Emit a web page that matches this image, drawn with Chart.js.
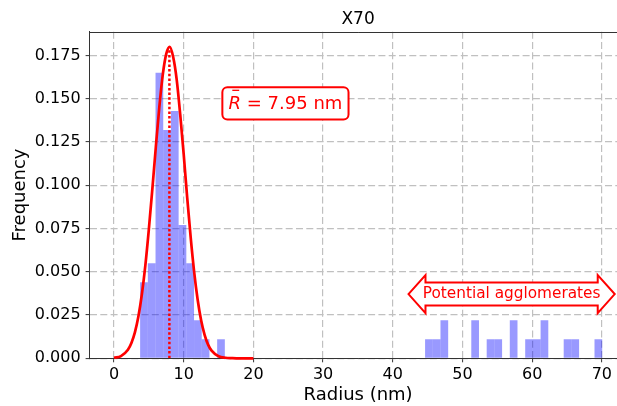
<!DOCTYPE html>
<html>
<head>
<meta charset="utf-8">
<script src="https://cdn.jsdelivr.net/npm/chart.js@4/dist/chart.umd.min.js"></script>
<style>
  html, body { margin: 0; padding: 0; overflow: hidden; background: #fff; }
  #wrap { width: 632px; height: 406px; }
</style>
</head>
<body>
<div id="wrap"><canvas id="chart" width="632" height="406"></canvas></div>
<script>
// histogram: 60 bins starting at 3.75 nm
const binStart = 3.75;
const binWidth = 1.105;
const binFreq = [
  0.044, 0.055, 0.165, 0.132, 0.143, 0.077, 0.055, 0.022, 0.011, 0, 0.011,
  0, 0, 0, 0, 0, 0, 0, 0, 0, 0,
  0, 0, 0, 0, 0, 0, 0, 0, 0, 0,
  0, 0, 0, 0, 0, 0,
  0.011, 0.011, 0.022, 0, 0, 0, 0.022, 0, 0.011, 0.011,
  0, 0.022, 0, 0.011, 0.011, 0.022, 0, 0, 0.011, 0.011,
  0, 0, 0.011
];

// fitted curve
const fitRadius = [0, 1, 2, 2.5, 3, 3.5, 4, 4.5, 5, 5.5, 6, 6.5, 7, 7.5, 8, 8.5, 9, 9.5, 10, 10.5, 11, 11.5, 12, 12.5, 13, 13.5, 14, 15, 16, 17, 18, 19, 20];
const fitFreq = [0.0003, 0.0013, 0.005, 0.0089, 0.015, 0.0241, 0.037, 0.0537, 0.0745, 0.0977, 0.122, 0.145, 0.164, 0.176, 0.18, 0.174, 0.161, 0.141, 0.118, 0.093, 0.07, 0.05, 0.034, 0.022, 0.0136, 0.0079, 0.0044, 0.0012, 0.0003, 0.0001, 0, 0, 0];

const meanR = 7.95;
const meanPeak = 0.179;

const xTicks = [0, 10, 20, 30, 40, 50, 60, 70];
const yTicks = [0, 0.025, 0.05, 0.075, 0.1, 0.125, 0.15, 0.175];

const FONT = 'DejaVu Sans';
const RED = '#ff0000';
const GRID = '#c0c0c0';
const AXIS = '#333333';

const barPts = binFreq.map((f, i) => ({ x: binStart + (i + 0.5) * binWidth, y: f }));
const fitPts = fitRadius.map((r, i) => ({ x: r, y: fitFreq[i] }));
const meanPts = [{ x: meanR, y: 0 }, { x: meanR, y: meanPeak }];

// title, top spine and the two text boxes
const extras = {
  id: 'extras',
  afterDraw(chart) {
    const ctx = chart.ctx;
    const a = chart.chartArea;
    const xs = chart.scales.x, ys = chart.scales.y;
    ctx.save();

    ctx.strokeStyle = AXIS;
    ctx.lineWidth = 1;
    ctx.beginPath();
    ctx.moveTo(a.left, Math.round(a.top) + 0.5);
    ctx.lineTo(a.right, Math.round(a.top) + 0.5);
    ctx.moveTo(Math.round(a.right) + 0.5, a.top);
    ctx.lineTo(Math.round(a.right) + 0.5, a.bottom);
    ctx.stroke();

    ctx.fillStyle = '#000';
    ctx.font = '17px ' + FONT;
    ctx.textAlign = 'center';
    ctx.textBaseline = 'alphabetic';
    ctx.fillText('X70', (a.left + a.right) / 2, 24);

    // mean radius label
    let px = xs.getPixelForValue(24.6), py = ys.getPixelForValue(0.1474);
    ctx.font = 'italic 18px ' + FONT;
    const wR = ctx.measureText('R').width;
    ctx.font = '18px ' + FONT;
    const rest = ' = 7.95 nm';
    const wRest = ctx.measureText(rest).width;
    const tw = wR + wRest;
    const bw = tw + 12.4, bh = 32.3;
    ctx.beginPath();
    ctx.roundRect(px - bw / 2, py - bh / 2, bw, bh, 5);
    ctx.fillStyle = '#fff';
    ctx.fill();
    ctx.strokeStyle = RED;
    ctx.lineWidth = 2;
    ctx.stroke();
    const x0 = px - tw / 2, base = py + 5.5;
    ctx.fillStyle = RED;
    ctx.textAlign = 'left';
    ctx.font = 'italic 18px ' + FONT;
    ctx.fillText('R', x0, base);
    ctx.font = '18px ' + FONT;
    ctx.fillText(rest, x0 + wR, base);
    ctx.lineWidth = 1.3;
    ctx.beginPath();
    ctx.moveTo(x0 + wR * 0.3, base - 18.5);
    ctx.lineTo(x0 + wR * 0.85, base - 18.5);
    ctx.stroke();

    // double arrow
    px = xs.getPixelForValue(57.05); py = ys.getPixelForValue(0.0371);
    ctx.font = '15.3px ' + FONT;
    const label = 'Potential agglomerates';
    const aw = ctx.measureText(label).width;
    const hw = aw / 2 - 2.7, hl = 17, bh2 = 11.5, hh = 19;
    ctx.beginPath();
    ctx.moveTo(px - hw - hl, py);
    ctx.lineTo(px - hw, py - hh);
    ctx.lineTo(px - hw, py - bh2);
    ctx.lineTo(px + hw, py - bh2);
    ctx.lineTo(px + hw, py - hh);
    ctx.lineTo(px + hw + hl, py);
    ctx.lineTo(px + hw, py + hh);
    ctx.lineTo(px + hw, py + bh2);
    ctx.lineTo(px - hw, py + bh2);
    ctx.lineTo(px - hw, py + hh);
    ctx.closePath();
    ctx.fillStyle = '#fff';
    ctx.fill();
    ctx.lineWidth = 2;
    ctx.lineJoin = 'miter';
    ctx.strokeStyle = RED;
    ctx.stroke();
    ctx.fillStyle = RED;
    ctx.textAlign = 'center';
    ctx.fillText(label, px, py + 4.3);

    ctx.restore();
  }
};

new Chart('chart', {
  type: 'bar',
  data: {
    datasets: [
      {
        type: 'line',
        data: meanPts,
        borderColor: RED,
        borderWidth: 2.5,
        borderDash: [2.5, 2.2],
        pointRadius: 0,
        order: 1
      },
      {
        type: 'line',
        data: fitPts,
        borderColor: RED,
        borderWidth: 2.7,
        pointRadius: 0,
        cubicInterpolationMode: 'monotone',
        clip: false,
        order: 2
      },
      {
        type: 'bar',
        data: barPts,
        backgroundColor: 'rgba(0,0,255,0.4)',
        borderWidth: 0,
        inflateAmount: 0,
        barPercentage: 1,
        categoryPercentage: 1,
        order: 3
      }
    ]
  },
  options: {
    responsive: false,
    animation: false,
    devicePixelRatio: 1,
    layout: { padding: { top: 31.7, right: 5.4, left: 0, bottom: 0 } },
    plugins: { legend: { display: false }, tooltip: { enabled: false } },
    scales: {
      x: {
        type: 'linear',
        min: -3.5,
        max: 73.55,
        offset: false,
        afterBuildTicks: s => { s.ticks = xTicks.map(v => ({ value: v })); },
        afterFit: s => { s.height = 47.7; },
        ticks: { font: { family: FONT, size: 16 }, color: '#000', padding: 3, maxRotation: 0, callback: v => String(v) },
        grid: { offset: false, color: GRID, lineWidth: 1.2, tickColor: AXIS, tickLength: 4, tickWidth: 1, tickBorderDash: [] },
        border: { color: AXIS, width: 1, dash: [7, 3.3] },
        title: { display: true, text: 'Radius (nm)', color: '#000', font: { family: FONT, size: 18 }, padding: { top: 0, bottom: 0 } }
      },
      y: {
        min: 0,
        max: 0.1888,
        afterBuildTicks: s => { s.ticks = yTicks.map(v => ({ value: v })); },
        afterFit: s => { s.width = 89.6; },
        ticks: { font: { family: FONT, size: 16 }, color: '#000', padding: 5, callback: v => v.toFixed(3) },
        grid: { color: GRID, lineWidth: 1.2, tickColor: AXIS, tickLength: 4, tickWidth: 1, tickBorderDash: [] },
        border: { color: AXIS, width: 1, dash: [7, 3.3] },
        title: { display: true, text: 'Frequency', color: '#000', font: { family: FONT, size: 18 }, padding: { top: 10, bottom: 0 } }
      }
    }
  },
  plugins: [extras]
});
</script>
</body>
</html>
